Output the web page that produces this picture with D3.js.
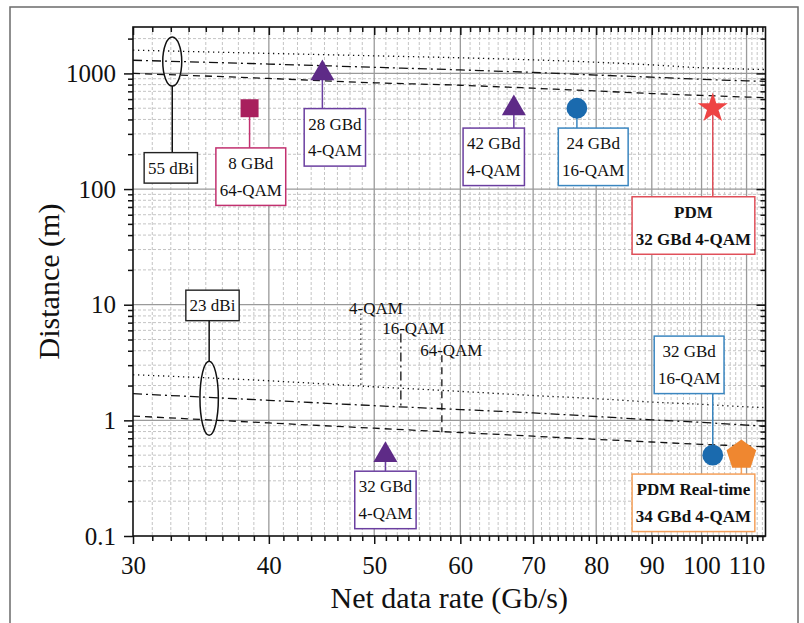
<!DOCTYPE html>
<html><head><meta charset="utf-8">
<script src="https://cdn.jsdelivr.net/npm/d3@7"></script>
<style>
body{margin:0;background:#fff}
svg{display:block}
text{font-family:"Liberation Serif","Times New Roman",serif}
</style>
</head><body>
<svg id="c" width="804" height="623"></svg>
<script>
// ---------- data ----------
const xTicks = [30, 40, 50, 60, 70, 80, 90, 100, 110];
const yTicks = [0.1, 1, 10, 100, 1000];
const curveRate = [30, 40, 50, 60, 70, 80, 90, 100, 110, 114.5];
const hi4qam  = [1590, 1490, 1420, 1365, 1310, 1250, 1185, 1120, 1090, 1080];
const hi16qam = [1300, 1205, 1130, 1072, 1020, 968, 928, 890, 862, 855];
const hi64qam = [1000, 905, 830, 790, 745, 705, 670, 645, 625, 618];
const lo4qam  = [2.48, 2.2, 1.95, 1.78, 1.64, 1.54, 1.44, 1.375, 1.31, 1.29];
const lo16qam = [1.70, 1.49, 1.34, 1.24, 1.16, 1.08, 1.01, 0.96, 0.91, 0.89];
const lo64qam = [1.09, 0.95, 0.855, 0.785, 0.73, 0.685, 0.65, 0.62, 0.60, 0.59];

const qamLabels = ["4-QAM", "16-QAM", "64-QAM"];
const qamRate   = [48.6, 52.9, 57.7];
const qamTop    = [8.4, 5.65, 3.65];
const qamBottom = [1.97, 1.30, 0.79];

const pointRate  = [38.4, 44.8, 67.2, 76.8, 102.4, 51.2, 102.4, 108.8];
const pointDist  = [500, 1000, 500, 500, 500, 0.5, 0.5, 0.5];
const pointShape = ["square", "triangle", "triangle", "circle", "star", "triangle", "circle", "pentagon"];
const pointLine1 = ["8 GBd", "28 GBd", "42 GBd", "24 GBd", "PDM", "32 GBd", "32 GBd", "PDM Real-time"];
const pointLine2 = ["64-QAM", "4-QAM", "4-QAM", "16-QAM", "32 GBd 4-QAM", "4-QAM", "16-QAM", "34 GBd 4-QAM"];
const pointBold  = [false, false, false, false, true, false, false, true];
const boxRate    = [38.5, 46.0, 64.4, 79.5, 98.3, 51.2, 97.4, 98.3];
const boxDist    = [128, 280, 190, 190, 48.4, 0.205, 3.02, 0.1936];

const antLabels  = ["55 dBi", "23 dBi"];
const antRate    = [32.6, 35.25];
const antDist    = [1265, 1.55];
const antBoxRate = [32.5, 35.5];
const antBoxDist = [152.5, 9.86];

// ---------- styles ----------
const markerFill = {square:"#A81F5D", triangle:"#5E2B87", circle:"#1A6AAE", star:"#EE4444", pentagon:"#EF8730"};
const boxStroke  = {square:"#C2306F", triangle:"#6B3FA0", circle:"#3A86C0", star:"#E0505A", pentagon:"#F5A05A"};

const svg = d3.select("#c");
const L = 133, R = 765.5, T = 27, B = 536;
const x = d3.scaleLog().domain([30, 114.5]).range([L, R]);
const y = d3.scaleLog().domain([0.1, 2520]).range([B, T]);

svg.append("rect").attr("x", 0).attr("y", 0).attr("width", 804).attr("height", 623).attr("fill", "#fff");
svg.append("rect").attr("x", 10).attr("y", 7).attr("width", 788).attr("height", 640)
  .attr("fill", "none").attr("stroke", "#6b6b6b").attr("stroke-width", 1.5);

// minor tick values
const xMinor = [];
for (let a = 30; a < 115; a += 10)
  for (let k = 1; k <= 7; k++) { const v = a + 1.25 * k; if (v < 114.5) xMinor.push(v); }
const yMinor = [];
for (let e = -1; e <= 3; e++)
  for (let m = 2; m <= 9; m++) { const v = m * Math.pow(10, e); if (v < 2520) yMinor.push(v); }

// grid
const grid = svg.append("g");
grid.selectAll(".gxm").data(xMinor).join("line")
  .attr("x1", d => x(d)).attr("x2", d => x(d)).attr("y1", T).attr("y2", B)
  .attr("stroke", "#c4c4c4").attr("stroke-width", 1).attr("stroke-dasharray", "3,2");
grid.selectAll(".gym").data(yMinor).join("line")
  .attr("x1", L).attr("x2", R).attr("y1", d => y(d)).attr("y2", d => y(d))
  .attr("stroke", "#c4c4c4").attr("stroke-width", 1).attr("stroke-dasharray", "3,2");
grid.selectAll(".gx").data(xTicks.slice(1)).join("line")
  .attr("x1", d => x(d)).attr("x2", d => x(d)).attr("y1", T).attr("y2", B)
  .attr("stroke", "#9a9a9a").attr("stroke-width", 1.3);
grid.selectAll(".gy").data(yTicks.slice(1)).join("line")
  .attr("x1", L).attr("x2", R).attr("y1", d => y(d)).attr("y2", d => y(d))
  .attr("stroke", "#9a9a9a").attr("stroke-width", 1.3);

// curves
const line = d3.line().x(d => x(d[0])).y(d => y(d[1])).curve(d3.curveMonotoneX);
const curves = [
  [hi4qam, "1.3,3.7"], [hi16qam, "9,4,2,4"], [hi64qam, "7,5"],
  [lo4qam, "1.3,3.7"], [lo16qam, "9,4,2,4"], [lo64qam, "7,5"]
];
const cg = svg.append("g");
curves.forEach(([vals, dash]) => {
  cg.append("path").datum(curveRate.map((r, i) => [r, vals[i]]))
    .attr("d", line).attr("fill", "none").attr("stroke", "#111")
    .attr("stroke-width", 1.3).attr("stroke-dasharray", dash);
});
const qamDash = ["1.3,3.7", "9,4,2,4", "7,5"];
const qamDx = [-11.7, -18.7, -21.7];
qamLabels.forEach((lab, i) => {
  cg.append("line").attr("x1", x(qamRate[i])).attr("x2", x(qamRate[i]))
    .attr("y1", y(qamTop[i])).attr("y2", y(qamBottom[i]))
    .attr("stroke", "#111").attr("stroke-width", 1.3).attr("stroke-dasharray", qamDash[i]);
  cg.append("text").attr("x", x(qamRate[i]) + qamDx[i]).attr("y", y(qamTop[i]) + 0.5)
    .attr("font-size", 17).attr("fill", "#111").text(lab);
});

// antenna ellipses + boxes
const ag = svg.append("g");
const antRy = [24.5, 37], antRx = [9.5, 9.2];
antLabels.forEach((lab, i) => {
  const cx = x(antRate[i]), cy = y(antDist[i]);
  const bx = x(antBoxRate[i]), by = y(antBoxDist[i]);
  const above = by < cy;
  ag.append("line").attr("x1", cx).attr("x2", cx)
    .attr("y1", above ? cy - antRy[i] : cy + antRy[i]).attr("y2", above ? by + 15.25 : by - 15.25)
    .attr("stroke", "#111").attr("stroke-width", 1.5);
  ag.append("ellipse").attr("cx", cx).attr("cy", cy).attr("rx", antRx[i]).attr("ry", antRy[i])
    .attr("fill", "none").attr("stroke", "#111").attr("stroke-width", 1.5);
  const t = ag.append("text").attr("x", bx).attr("y", by + 5.8).attr("text-anchor", "middle")
    .attr("font-size", 17).attr("fill", "#111").text(lab);
  const w = t.node().getComputedTextLength() + 7.5;
  ag.insert("rect", "text").attr("x", bx - w / 2).attr("y", by - 15.25).attr("width", w).attr("height", 30.5)
    .attr("fill", "#fff").attr("stroke", "#222").attr("stroke-width", 1.4);
});

// points, leaders, boxes
const pg = svg.append("g");
const symSize = {square:324, triangle:249, circle:340, star:280};
function pentagon(r) {
  const pts = d3.range(5).map(k => {
    const a = -Math.PI / 2 + k * 2 * Math.PI / 5;
    return [r * Math.cos(a), r * Math.sin(a)];
  });
  return "M" + pts.map(p => p.join(",")).join("L") + "Z";
}
const symType = {square:d3.symbolSquare, triangle:d3.symbolTriangle, circle:d3.symbolCircle, star:d3.symbolStar};
const BH = 57.5;
pointRate.forEach((r, i) => {
  const sh = pointShape[i];
  const px = x(r), py = y(pointDist[i]);
  const bx = x(boxRate[i]), by = y(boxDist[i]);
  const above = by < py;
  const g = pg.append("g");
  g.append("line").attr("x1", px).attr("x2", px).attr("y1", py)
    .attr("y2", above ? by + BH / 2 : by - BH / 2)
    .attr("stroke", boxStroke[sh]).attr("stroke-width", 1.5);
  const box = g.append("rect");
  const t1 = g.append("text").attr("x", bx).attr("y", by - 13.3 + 5.8).attr("text-anchor", "middle")
    .attr("font-size", 17).attr("font-weight", pointBold[i] ? "bold" : "normal").attr("fill", "#111").text(pointLine1[i]);
  const t2 = g.append("text").attr("x", bx).attr("y", by + 13.3 + 5.8).attr("text-anchor", "middle")
    .attr("font-size", 17).attr("font-weight", pointBold[i] ? "bold" : "normal").attr("fill", "#111").text(pointLine2[i]);
  const w = Math.max(t1.node().getComputedTextLength(), t2.node().getComputedTextLength()) + 7.5;
  box.attr("x", bx - w / 2).attr("y", by - BH / 2).attr("width", w).attr("height", BH)
    .attr("fill", "#fff").attr("stroke", boxStroke[sh]).attr("stroke-width", 1.5);
  const d = sh === "pentagon" ? pentagon(15.6) : d3.symbol(symType[sh], symSize[sh])();
  g.append("path").attr("d", d).attr("transform", `translate(${px},${py})`).attr("fill", markerFill[sh]);
});

// axes
const fmt = d => String(d);
const ax = svg.append("g");
function styleAxis(g) {
  g.select(".domain").remove();
  g.selectAll("line").attr("stroke", "#111").attr("stroke-width", 1.5);
  g.selectAll("text").attr("fill", "#111").attr("font-size", 25).attr("font-family", "Liberation Serif, Times New Roman, serif");
}
ax.append("g").attr("transform", `translate(0,${B})`)
  .call(d3.axisBottom(x).tickValues(xTicks).tickFormat(fmt).tickSize(8).tickPadding(12)).call(styleAxis);
ax.append("g").attr("transform", `translate(0,${B})`)
  .call(d3.axisBottom(x).tickValues(xMinor).tickFormat("").tickSize(5)).call(styleAxis);
ax.append("g").attr("transform", `translate(0,${T})`)
  .call(d3.axisBottom(x).tickValues(xTicks).tickFormat("").tickSize(8)).call(styleAxis);
ax.append("g").attr("transform", `translate(0,${T})`)
  .call(d3.axisBottom(x).tickValues(xMinor).tickFormat("").tickSize(5)).call(styleAxis);
ax.append("g").attr("transform", `translate(${L},0)`)
  .call(d3.axisLeft(y).tickValues(yTicks).tickFormat(fmt).tickSize(9).tickPadding(8)).call(styleAxis);
ax.append("g").attr("transform", `translate(${L},0)`)
  .call(d3.axisLeft(y).tickValues(yMinor).tickFormat("").tickSize(5)).call(styleAxis);
ax.append("g").attr("transform", `translate(${R},0)`)
  .call(d3.axisLeft(y).tickValues(yTicks).tickFormat("").tickSize(9)).call(styleAxis);
ax.append("g").attr("transform", `translate(${R},0)`)
  .call(d3.axisLeft(y).tickValues(yMinor).tickFormat("").tickSize(5)).call(styleAxis);

svg.append("rect").attr("x", L).attr("y", T).attr("width", R - L).attr("height", B - T)
  .attr("fill", "none").attr("stroke", "#111").attr("stroke-width", 1.6);

svg.append("text").attr("x", (L + R) / 2).attr("y", 608).attr("text-anchor", "middle")
  .attr("font-size", 30).attr("fill", "#111").text("Net data rate (Gb/s)");
svg.append("text").attr("transform", `translate(59,${(T + B) / 2}) rotate(-90)`).attr("text-anchor", "middle")
  .attr("font-size", 30).attr("fill", "#111").text("Distance (m)");
</script>
</body></html>
